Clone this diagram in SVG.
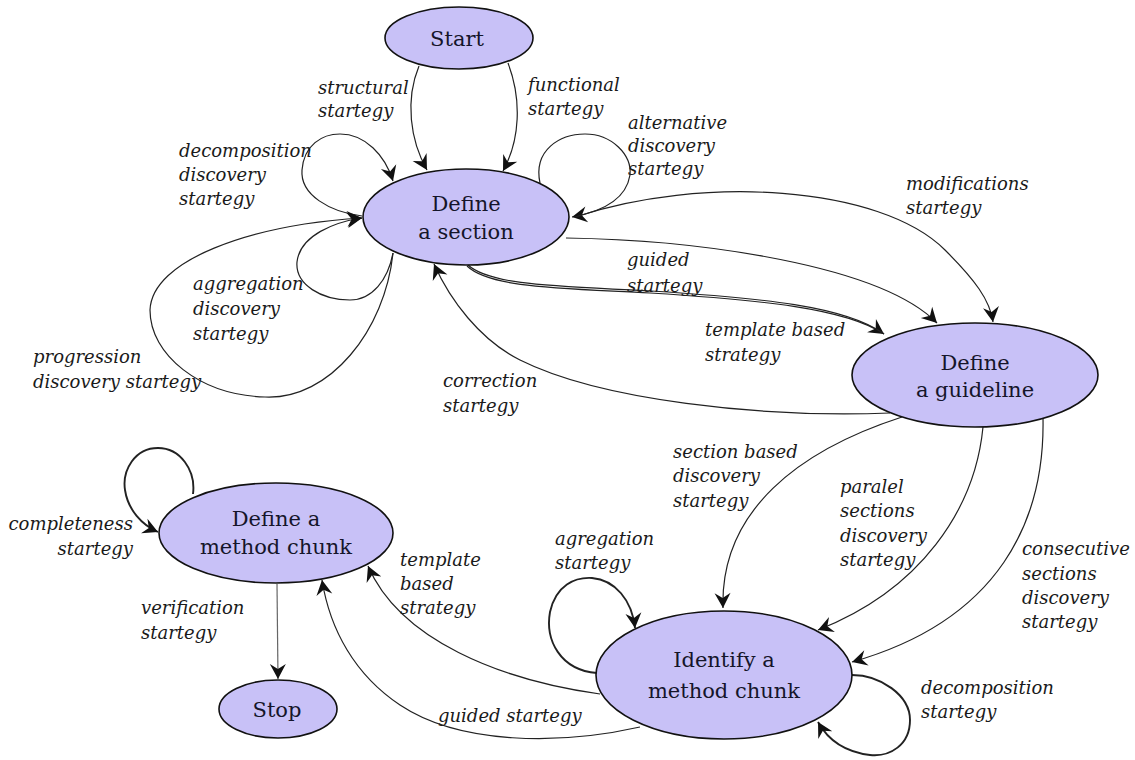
<svg xmlns="http://www.w3.org/2000/svg" width="1135" height="760" viewBox="0 0 1135 760">
  <style>
    .node ellipse { fill: #c8c1f7; stroke: #111; stroke-width: 1.6; }
    .node text { font-family: 'DejaVu Serif', serif; font-size: 21px; fill: #15152a; text-anchor: middle; }
    .edge { fill: none; stroke: #222; stroke-width: 1.2; }
    .heavy { stroke-width: 1.9; }
    .grey { stroke: #666; }
    .lbl { font-family: 'DejaVu Serif', serif; font-style: italic; font-size: 18px; fill: #1a1a1a; }
  </style>
  <defs>
    <marker id="ah" viewBox="-16 -9 17 18" refX="0" refY="0" markerWidth="17" markerHeight="18" orient="auto" markerUnits="userSpaceOnUse">
      <path d="M0,0 L-15,-8 L-10,0 L-15,8 Z" fill="#111"/>
    </marker>
  </defs>

  <rect width="1135" height="760" fill="#fff"/>

  <!-- connectors -->
  <g id="connectors">
    <!-- Start -> Define a section -->
    <path class="edge" d="M419,66 C405,100 410,140 427,170" marker-end="url(#ah)"/>
    <path class="edge" d="M508,63 C522,100 520,140 503,171" marker-end="url(#ah)"/>
    <!-- self loops on Define a section -->
    <path class="edge" d="M362,216 C330,212 300,195 302,170 C304,145 322,134 340,134 C365,134 385,155 393,181" marker-end="url(#ah)"/>
    <path class="edge" d="M393,253 C388,280 372,300 350,300 C322,300 295,285 297,262 C300,235 335,222 362,218" marker-end="url(#ah)"/>
    <path class="edge" d="M393,253 C385,330 330,400 265,397 C200,395 150,355 150,310 C152,260 250,225 362,218" marker-end="url(#ah)"/>
    <path class="edge" d="M540,183 C533,150 560,134 585,134 C612,134 632,155 630,175 C626,200 600,212 572,217" marker-end="url(#ah)"/>
    <!-- Define a section <-> Define a guideline -->
    <path class="edge" d="M575,217 C700,175 880,185 945,250 C975,280 990,300 993,322" marker-end="url(#ah)"/>
    <path class="edge" d="M566,238 C700,240 880,265 937,323" marker-end="url(#ah)"/>
    <path class="edge" d="M467,266 C490,288 560,288 650,293 C760,300 845,308 884,334" marker-end="url(#ah)"/>
    <path class="edge" d="M468,265 C491,286 561,286 651,291 C761,298 846,306 884,334"/>
    <path class="edge" d="M890,413 C760,418 600,400 520,360 C480,340 450,300 434,264" marker-end="url(#ah)"/>
    <!-- Define a guideline -> Identify a method chunk -->
    <path class="edge" d="M902,417 C800,450 720,510 723,608" marker-end="url(#ah)"/>
    <path class="edge" d="M983,427 C975,510 920,590 818,630" marker-end="url(#ah)"/>
    <path class="edge" d="M1043,418 C1045,520 1000,620 852,662" marker-end="url(#ah)"/>
    <!-- self loops on Identify a method chunk -->
    <path class="edge heavy" d="M597,673 C560,670 545,640 550,612 C556,585 575,577 592,578 C615,580 632,600 635,628" marker-end="url(#ah)"/>
    <path class="edge heavy" d="M852,675 C880,675 910,695 910,720 C910,745 890,757 870,755 C845,752 828,740 818,722" marker-end="url(#ah)"/>
    <!-- Identify a method chunk -> Define a method chunk -->
    <path class="edge" d="M600,694 C500,680 400,640 368,566" marker-end="url(#ah)"/>
    <path class="edge" d="M640,727 C560,745 460,745 400,705 C355,675 330,630 322,580" marker-end="url(#ah)"/>
    <!-- Define a method chunk -->
    <path class="edge heavy" d="M193,494 C196,470 180,448 158,448 C135,448 122,470 125,490 C128,510 142,525 158,532" marker-end="url(#ah)"/>
    <path class="edge grey" d="M277,584 L278,679" marker-end="url(#ah)"/>
  </g>

  <!-- strategy labels -->
  <g id="labels">
    <text class="lbl" x="318" y="94">structural</text>
    <text class="lbl" x="318" y="117">startegy</text>
    <text class="lbl" x="528" y="91">functional</text>
    <text class="lbl" x="528" y="115">startegy</text>
    <text class="lbl" x="179" y="157">decomposition</text>
    <text class="lbl" x="179" y="181">discovery</text>
    <text class="lbl" x="179" y="205">startegy</text>
    <text class="lbl" x="628" y="129">alternative</text>
    <text class="lbl" x="628" y="152">discovery</text>
    <text class="lbl" x="628" y="175">startegy</text>
    <text class="lbl" x="906" y="190">modifications</text>
    <text class="lbl" x="906" y="214">startegy</text>
    <text class="lbl" x="193" y="290">aggregation</text>
    <text class="lbl" x="193" y="315">discovery</text>
    <text class="lbl" x="193" y="340">startegy</text>
    <text class="lbl" x="33" y="363">progression</text>
    <text class="lbl" x="33" y="388">discovery startegy</text>
    <text class="lbl" x="627" y="266">guided</text>
    <text class="lbl" x="627" y="292">startegy</text>
    <text class="lbl" x="705" y="336">template based</text>
    <text class="lbl" x="705" y="361">strategy</text>
    <text class="lbl" x="443" y="387">correction</text>
    <text class="lbl" x="443" y="412">startegy</text>
    <text class="lbl" x="673" y="458">section based</text>
    <text class="lbl" x="673" y="482">discovery</text>
    <text class="lbl" x="673" y="507">startegy</text>
    <text class="lbl" x="840" y="493">paralel</text>
    <text class="lbl" x="840" y="517">sections</text>
    <text class="lbl" x="840" y="542">discovery</text>
    <text class="lbl" x="840" y="566">startegy</text>
    <text class="lbl" x="1022" y="555">consecutive</text>
    <text class="lbl" x="1022" y="580">sections</text>
    <text class="lbl" x="1022" y="604">discovery</text>
    <text class="lbl" x="1022" y="628">startegy</text>
    <text class="lbl" x="555" y="545">agregation</text>
    <text class="lbl" x="555" y="569">startegy</text>
    <text class="lbl" x="921" y="694">decomposition</text>
    <text class="lbl" x="921" y="718">startegy</text>
    <text class="lbl" x="400" y="566">template</text>
    <text class="lbl" x="400" y="590">based</text>
    <text class="lbl" x="400" y="614">strategy</text>
    <text class="lbl" x="438" y="722">guided startegy</text>
    <text class="lbl" x="133" y="530" text-anchor="end">completeness</text>
    <text class="lbl" x="133" y="555" text-anchor="end">startegy</text>
    <text class="lbl" x="141" y="614">verification</text>
    <text class="lbl" x="141" y="639">startegy</text>
  </g>

  <!-- nodes -->
  <g id="start" class="node">
    <ellipse cx="459" cy="38" rx="74" ry="31"/>
    <text x="457" y="46" font-size="20">Start</text>
  </g>
  <g id="define-section" class="node">
    <ellipse cx="466" cy="217" rx="103" ry="48"/>
    <text x="466" y="211">Define</text>
    <text x="466" y="239">a section</text>
  </g>
  <g id="define-guideline" class="node">
    <ellipse cx="975" cy="375" rx="123" ry="52"/>
    <text x="975" y="370">Define</text>
    <text x="975" y="397">a guideline</text>
  </g>
  <g id="define-method-chunk" class="node">
    <ellipse cx="276" cy="533" rx="117" ry="50"/>
    <text x="276" y="526">Define a</text>
    <text x="276" y="554">method chunk</text>
  </g>
  <g id="stop" class="node">
    <ellipse cx="278" cy="709" rx="59" ry="29"/>
    <text x="277" y="717">Stop</text>
  </g>
  <g id="identify-method-chunk" class="node">
    <ellipse cx="724" cy="675" rx="128" ry="64"/>
    <text x="724" y="667">Identify a</text>
    <text x="724" y="698">method chunk</text>
  </g>
</svg>
